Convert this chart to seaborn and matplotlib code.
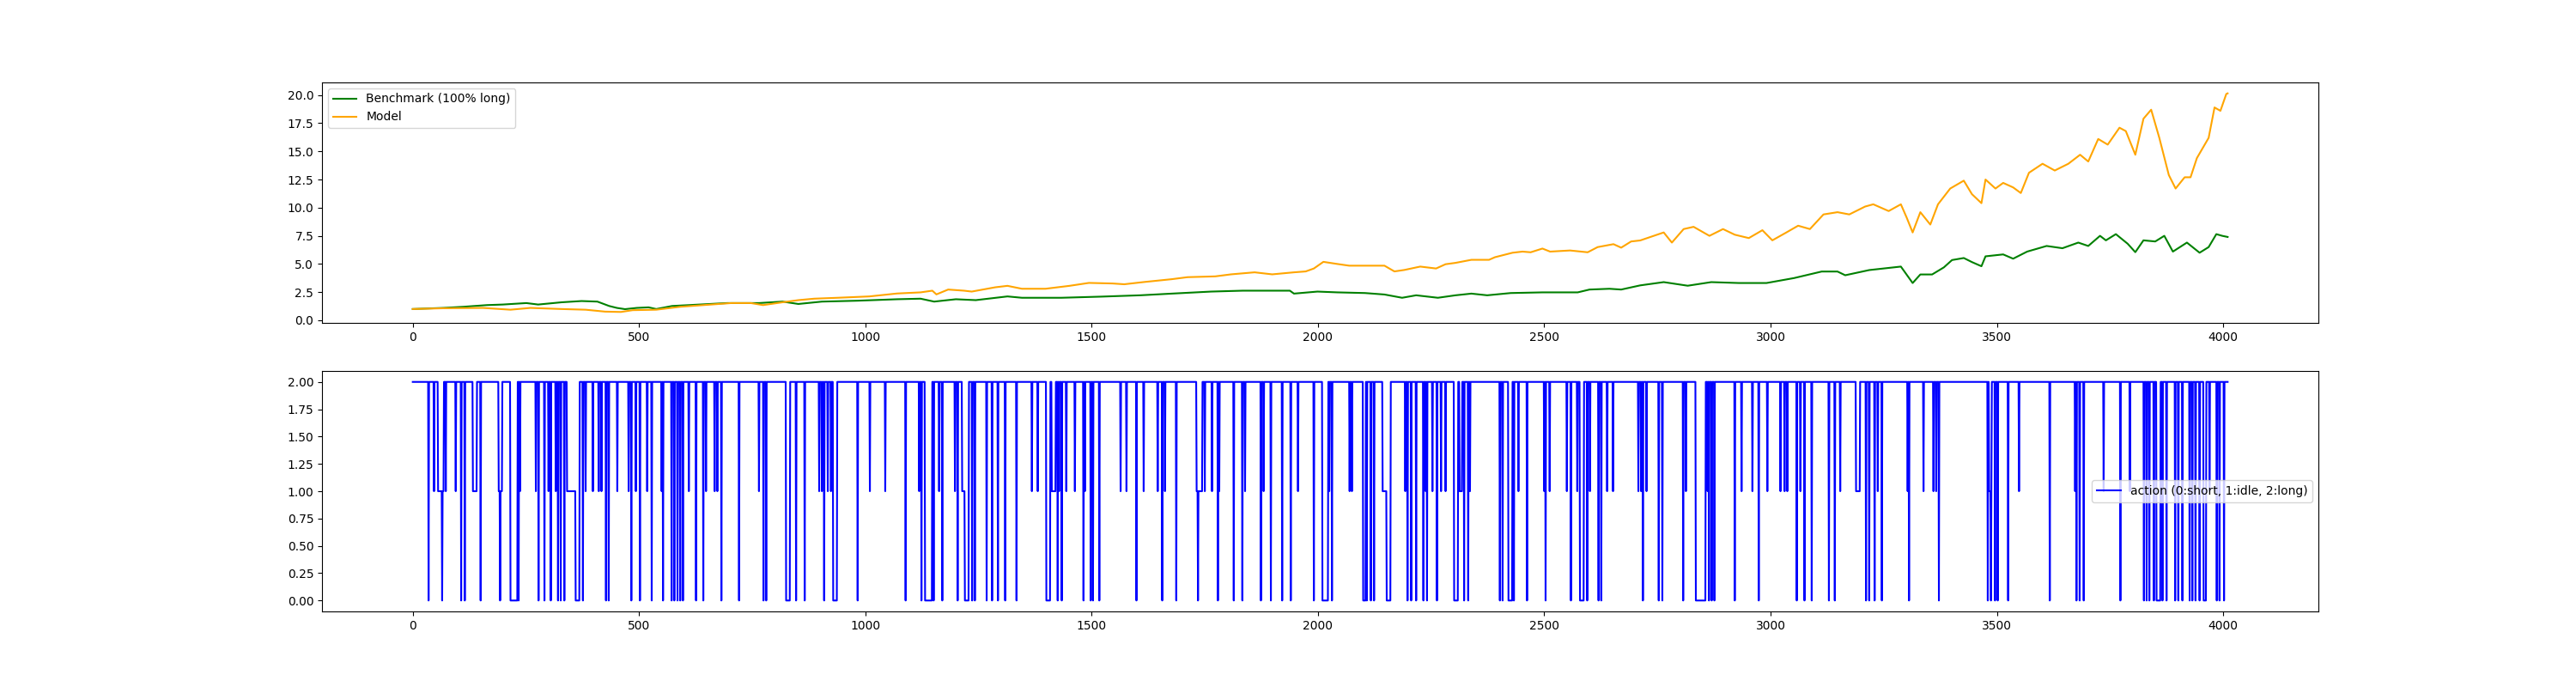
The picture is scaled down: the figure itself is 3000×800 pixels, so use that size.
import matplotlib
matplotlib.use("Agg")
import matplotlib.pyplot as plt
import seaborn as sns
import numpy as np

# equity curves (step index, value)
bench_x = [0, 68, 112, 164, 199, 251, 277, 329, 373, 408, 434, 451, 469, 495, 521, 538, 573,
           634, 695, 765, 817, 852, 904, 983, 1070, 1122, 1152, 1200, 1244, 1314, 1346,
           1433, 1520, 1607, 1677, 1764, 1834, 1938, 1947, 1999, 2043, 2104, 2147, 2186,
           2217, 2265, 2304, 2339, 2374, 2426, 2496, 2574, 2600, 2644, 2670, 2712,
           2764, 2817, 2869, 2930, 2991, 3052, 3113, 3148, 3165, 3218, 3288, 3314, 3331,
           3357, 3383, 3401, 3427, 3445, 3466, 3475, 3514, 3536, 3567, 3610, 3645, 3680,
           3702, 3728, 3741, 3763, 3789, 3806, 3824, 3850, 3870, 3889, 3920, 3948, 3968,
           3985, 3998, 4010]
bench_y = [1.0, 1.1, 1.2, 1.35, 1.4, 1.53, 1.4, 1.6, 1.71, 1.66, 1.27, 1.1, 0.99, 1.1, 1.15,
           1.0, 1.27, 1.4, 1.53, 1.53, 1.66, 1.45, 1.66, 1.74, 1.87, 1.92, 1.66, 1.87, 1.79,
           2.12, 2.0, 2.0, 2.1, 2.22, 2.37, 2.55, 2.63, 2.63, 2.37, 2.55, 2.48, 2.42, 2.29,
           2.0, 2.22, 2.0, 2.22, 2.37, 2.22, 2.42, 2.48, 2.48, 2.73, 2.8, 2.73, 3.1,
           3.39, 3.07, 3.39, 3.31, 3.31, 3.75, 4.33, 4.33, 4.0, 4.46, 4.77, 3.31, 4.07,
           4.07, 4.7, 5.35, 5.53, 5.17, 4.8, 5.68, 5.85, 5.47, 6.1, 6.6, 6.4, 6.9,
           6.6, 7.5, 7.1, 7.65, 6.8, 6.05, 7.1, 7.0, 7.5, 6.1, 6.9, 6.0, 6.5,
           7.65, 7.5, 7.4]

model_x = [0, 68, 155, 216, 260, 329, 382, 425, 460, 486, 538, 591, 643, 704, 747, 774, 817,
           852, 887, 939, 1009, 1070, 1122, 1148, 1157, 1183, 1218, 1235, 1287, 1314, 1346,
           1398, 1451, 1494, 1546, 1572, 1616, 1677, 1712, 1773, 1808, 1860, 1899, 1947,
           1973, 1991, 2012, 2043, 2069, 2112, 2147, 2169, 2191, 2226, 2261, 2282, 2304,
           2339, 2378, 2391, 2430, 2452, 2470, 2496, 2513, 2557, 2596, 2618, 2653, 2670,
           2692, 2712, 2764, 2782, 2808, 2830, 2865, 2895, 2921, 2952, 2982, 3004, 3035,
           3061, 3087, 3117, 3148, 3174, 3209, 3227, 3261, 3288, 3301, 3314, 3331, 3353,
           3370, 3397, 3427, 3445, 3466, 3475, 3497, 3514, 3536, 3553, 3571, 3601, 3628,
           3658, 3684, 3702, 3724, 3745, 3771, 3785, 3806, 3824, 3841, 3859, 3880, 3895,
           3915, 3928, 3942, 3968, 3981, 3994, 4007, 4010]
model_y = [1.0, 1.07, 1.1, 0.94, 1.1, 1.0, 0.94, 0.77, 0.74, 0.9, 0.94, 1.2, 1.35, 1.53, 1.53,
           1.35, 1.6, 1.79, 1.92, 2.0, 2.12, 2.38, 2.48, 2.63, 2.3, 2.73, 2.63, 2.55, 2.93,
           3.06, 2.8, 2.8, 3.06, 3.32, 3.27, 3.2, 3.4, 3.65, 3.83, 3.9, 4.08, 4.26, 4.08,
           4.26, 4.34, 4.6, 5.19, 5.0, 4.85, 4.85, 4.85, 4.34, 4.47, 4.77, 4.6, 4.98, 5.1,
           5.37, 5.37, 5.6, 6.0, 6.1, 6.04, 6.37, 6.1, 6.2, 6.04, 6.5, 6.76, 6.45,
           7.0, 7.09, 7.8, 6.9, 8.1, 8.3, 7.5, 8.1, 7.6, 7.3, 8.0, 7.1, 7.8,
           8.4, 8.1, 9.4, 9.6, 9.4, 10.1, 10.3, 9.7, 10.3, 9.1, 7.8, 9.6, 8.5,
           10.3, 11.7, 12.4, 11.2, 10.4, 12.5, 11.7, 12.2, 11.8, 11.3, 13.1, 13.9, 13.3,
           13.9, 14.7, 14.1, 16.1, 15.6, 17.1, 16.8, 14.7, 17.9, 18.7, 16.2, 12.9, 11.7,
           12.7, 12.7, 14.4, 16.2, 18.9, 18.6, 20.1, 20.15]

# actions: 2 (long) everywhere except these read-off stretches
n_steps = 4011
act_start = [35, 47, 56, 65, 73, 95, 107, 115, 133, 150, 190, 193, 216, 234, 237, 272, 278,
             291, 300, 305, 316, 321, 327, 335, 341, 360, 376, 382, 398, 411, 417, 427, 433,
             452, 477, 483, 493, 502, 518, 528, 550, 553, 572, 578, 585, 591, 597, 610, 626,
             642, 648,
             667, 673, 682, 721, 765, 775, 781, 825, 847, 866, 898, 904, 909, 917, 924, 929,
             983, 1010, 1044, 1089, 1119, 1124, 1132, 1151, 1163, 1170, 1198, 1204, 1214,
             1220, 1236, 1242, 1268, 1280, 1293, 1309, 1334,
             1368, 1381, 1400, 1412, 1425, 1428, 1434, 1444, 1463, 1482, 1485, 1498, 1503,
             1517, 1564, 1577, 1599, 1615, 1646, 1656, 1662, 1687, 1732, 1735, 1750, 1766,
             1779, 1782, 1814, 1833, 1839, 1874, 1880, 1896, 1921, 1940, 1956, 1991, 2010,
             2025,
             2031, 2070, 2075, 2100, 2108, 2117, 2124, 2143, 2152, 2193, 2198, 2206, 2217,
             2233, 2238, 2241, 2253, 2263, 2272, 2282, 2301, 2313, 2323, 2332, 2336, 2402,
             2408, 2421, 2433, 2443, 2462, 2500, 2503, 2512, 2550, 2559, 2573, 2579, 2595,
             2601, 2620, 2626, 2639, 2652, 2708,
             2714, 2718, 2726, 2753, 2761, 2807, 2813, 2835, 2861, 2864, 2870, 2876, 2921,
             2936, 2960, 2974, 2993, 3022, 3031, 3037, 3058, 3066, 3075, 3091, 3129, 3142,
             3154, 3189, 3211, 3218, 3230, 3237, 3246, 3303, 3306, 3338, 3360, 3366, 3372,
             3480, 3483, 3487, 3496, 3502, 3525, 3549, 3617, 3673, 3676, 3683, 3692, 3736,
             3773, 3794, 3825, 3831, 3837, 3847, 3853, 3866, 3875, 3894, 3901, 3910, 3926,
             3932, 3939, 3948, 3957, 3970, 3986, 3992, 4002]
act_len = [1, 1, 13, 1, 1, 1, 1, 1, 9, 1, 8, 1, 16, 1, 1, 1, 1,
           1, 1, 1, 1, 1, 1, 1, 19, 9, 1, 1, 1, 1, 1, 1, 1,
           1, 1, 1, 1, 1, 1, 1, 1, 1, 1, 1, 1, 1, 1, 1, 1,
           1, 1,
           1, 1, 1, 1, 1, 1, 1, 9, 1, 1, 1, 1, 1, 1, 1, 9,
           1, 1, 1, 1, 1, 1, 16, 1, 1, 1, 1, 1, 6,
           9, 1, 1, 1, 1, 1, 1, 1,
           1, 1, 9, 9, 1, 1, 1, 1, 1, 1, 1, 1, 1,
           1, 1, 1, 1, 1, 1, 1, 1, 1, 13, 1, 1, 1,
           1, 1, 1, 1, 1, 1, 1, 1, 1, 1, 1, 1, 13,
           1,
           1, 1, 1, 6, 1, 1, 1, 9, 9, 1, 1, 1, 1,
           1, 1, 1, 1, 1, 1, 1, 9, 6, 1, 1, 1, 1,
           1, 9, 1, 1, 1, 1, 1, 1, 1, 1, 1, 9, 1,
           1, 1, 1, 1, 1, 1,
           1, 1, 1, 1, 1, 1, 1, 22, 1, 1, 1, 1, 1,
           1, 1, 1, 1, 1, 1, 1, 1, 1, 1, 1, 1, 1,
           1, 9, 1, 1, 1, 1, 1, 1, 1, 1, 1, 1, 1,
           1, 6, 1, 1, 1, 1, 1, 1, 1, 1, 1, 1, 1,
           1, 1, 1, 1, 1, 1, 9, 1, 1, 1, 1, 1, 1,
           1, 1, 1, 6, 1, 1, 1, 1]
act_val = [0, 1, 1, 0, 1, 1, 0, 0, 1, 0, 1, 0, 0, 0, 1, 1, 0,
           0, 1, 0, 1, 0, 0, 0, 1, 0, 0, 1, 1, 1, 1, 0, 0,
           1, 1, 0, 1, 0, 1, 0, 1, 0, 0, 0, 0, 0, 0, 1, 0,
           0, 1,
           1, 1, 0, 0, 1, 0, 0, 0, 0, 0, 1, 1, 0, 1, 1, 0,
           0, 1, 1, 0, 1, 0, 0, 0, 1, 0, 1, 0, 1,
           0, 0, 0, 0, 0, 0, 0, 0,
           1, 1, 0, 1, 0, 1, 0, 1, 1, 0, 1, 0, 0,
           0, 1, 1, 0, 1, 1, 0, 1, 0, 1, 0, 1, 1,
           0, 1, 0, 0, 1, 0, 1, 0, 0, 0, 1, 0, 0,
           1,
           0, 1, 1, 0, 0, 0, 0, 1, 0, 1, 0, 0, 0,
           0, 1, 0, 1, 0, 1, 1, 0, 1, 0, 0, 1, 0,
           0, 0, 0, 1, 0, 1, 0, 1, 1, 0, 1, 0, 0,
           1, 0, 0, 1, 1, 1,
           1, 0, 1, 0, 0, 0, 1, 0, 1, 0, 0, 0, 0,
           1, 1, 0, 1, 1, 1, 1, 0, 1, 0, 0, 0, 0,
           1, 1, 0, 0, 0, 1, 0, 1, 0, 1, 1, 1, 0,
           0, 1, 0, 0, 0, 0, 1, 0, 1, 0, 0, 0, 1,
           0, 1, 0, 0, 0, 0, 0, 0, 0, 0, 0, 0, 0,
           0, 0, 0, 0, 1, 0, 0, 0]

action = np.full(n_steps, 2)
for s, l, v in zip(act_start, act_len, act_val):
    action[s:s + l] = v

fig, (ax1, ax2) = plt.subplots(2, 1, figsize=(30, 8), dpi=100)

sns.lineplot(x=bench_x, y=bench_y, ax=ax1, color='green', label='Benchmark (100% long)')
sns.lineplot(x=model_x, y=model_y, ax=ax1, color='orange', label='Model')
ax1.legend(loc='upper left')

sns.lineplot(x=np.arange(n_steps), y=action, ax=ax2, color='blue',
             label='action (0:short, 1:idle, 2:long)')
ax2.legend(loc='center right')

plt.savefig('out.png')
